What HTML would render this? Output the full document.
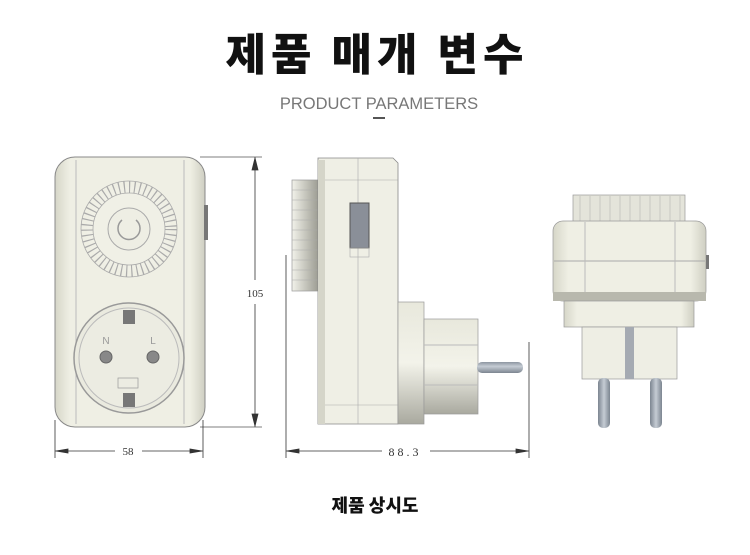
<!DOCTYPE html>
<html><head><meta charset="utf-8"><style>
html,body{margin:0;padding:0;background:#fff;}
svg{display:block;}
</style></head><body>
<svg width="750" height="555" viewBox="0 0 750 555" xmlns="http://www.w3.org/2000/svg">
<defs>
<linearGradient id="bodyG" x1="0" x2="1"><stop offset="0" stop-color="#d6d6c8"/><stop offset="0.1" stop-color="#efefe4"/><stop offset="0.9" stop-color="#efefe4"/><stop offset="1" stop-color="#cfcfc2"/></linearGradient>
<linearGradient id="vG" x1="0" y1="0" x2="0" y2="1"><stop offset="0" stop-color="#e8e8dc"/><stop offset="0.5" stop-color="#f3f3ea"/><stop offset="1" stop-color="#a9a99f"/></linearGradient>
<linearGradient id="pinG" x1="0" y1="0" x2="0" y2="1"><stop offset="0" stop-color="#8c95a0"/><stop offset="0.4" stop-color="#c5ccd4"/><stop offset="1" stop-color="#7c8590"/></linearGradient>
<linearGradient id="pinV" x1="0" x2="1"><stop offset="0" stop-color="#7c8590"/><stop offset="0.5" stop-color="#c5ccd4"/><stop offset="1" stop-color="#7c8590"/></linearGradient>
<linearGradient id="knobG" x1="0" x2="1"><stop offset="0" stop-color="#f2f2ea"/><stop offset="1" stop-color="#9a9a90"/></linearGradient>
</defs>
<text x="377" y="70" text-anchor="middle" font-family="'Noto Sans CJK KR',sans-serif" font-weight="900" font-size="44" fill="#111" letter-spacing="5">제품 매개 변수</text>
<text x="379" y="109" text-anchor="middle" font-family="'Liberation Sans',sans-serif" font-size="16.5" fill="#777">PRODUCT PARAMETERS</text>
<rect x="373" y="117" width="12" height="2" fill="#555"/>

<!-- front view -->
<rect x="55" y="157" width="150" height="270" rx="20" fill="url(#bodyG)" stroke="#888"/>
<line x1="76" y1="160" x2="76" y2="424" stroke="#bbb"/>
<line x1="184" y1="160" x2="184" y2="424" stroke="#bbb"/>
<rect x="204" y="205" width="4" height="35" fill="#777"/>
<circle cx="129" cy="229" r="42" fill="#f0f0e6" stroke="#aaa" stroke-width="12" stroke-dasharray="1.2 4"/>
<circle cx="129" cy="229" r="48" fill="none" stroke="#aaa" stroke-width="0.8"/>
<circle cx="129" cy="229" r="36" fill="none" stroke="#aaa" stroke-width="0.8"/>
<circle cx="129" cy="229" r="21" fill="#eeeee4" stroke="#aaa"/>
<path d="M122 220 A11 11 0 1 0 136 220" fill="none" stroke="#999" stroke-width="1.5"/>
<circle cx="129" cy="358" r="55" fill="#eaeadf" stroke="#999" stroke-width="1.5"/>
<circle cx="129" cy="358" r="50" fill="#ececE2" stroke="#bbb"/>
<rect x="123" y="310" width="12" height="14" fill="#777"/>
<rect x="123" y="393" width="12" height="14" fill="#777"/>
<circle cx="106" cy="357" r="6" fill="#888" stroke="#666"/>
<circle cx="153" cy="357" r="6" fill="#888" stroke="#666"/>
<text x="106" y="344" text-anchor="middle" font-family="'Liberation Sans',sans-serif" font-size="10" fill="#999">N</text>
<text x="153" y="344" text-anchor="middle" font-family="'Liberation Sans',sans-serif" font-size="10" fill="#999">L</text>
<rect x="118" y="378" width="20" height="10" fill="none" stroke="#999" stroke-width="0.7"/>
<g stroke="#333" stroke-width="0.8" fill="#333">
<line x1="200" y1="157" x2="262" y2="157" stroke="#555"/>
<line x1="200" y1="427" x2="262" y2="427" stroke="#555"/>
<line x1="255" y1="157" x2="255" y2="280"/><line x1="255" y1="304" x2="255" y2="427"/>
<path d="M255 158 L252 170 L258 170Z"/><path d="M255 426 L252 414 L258 414Z"/>
<line x1="55" y1="420" x2="55" y2="458"/><line x1="203" y1="420" x2="203" y2="458"/>
<line x1="55" y1="451" x2="115" y2="451"/><line x1="142" y1="451" x2="203" y2="451"/>
<path d="M56 451 L68 449 L68 453Z"/><path d="M202 451 L190 449 L190 453Z"/>
<line x1="286" y1="255" x2="286" y2="458"/><line x1="529" y1="342" x2="529" y2="458"/>
<line x1="286" y1="451" x2="382" y2="451"/><line x1="430" y1="451" x2="529" y2="451"/>
<path d="M287 451 L299 449 L299 453Z"/><path d="M528 451 L516 449 L516 453Z"/>
</g>
<text x="255" y="297" text-anchor="middle" font-family="'Liberation Serif',serif" font-size="11" fill="#333">105</text>
<text x="128" y="455" text-anchor="middle" font-family="'Liberation Serif',serif" font-size="11" fill="#333">58</text>
<text x="405" y="456" text-anchor="middle" font-family="'Liberation Serif',serif" font-size="12" fill="#333" letter-spacing="3">88.3</text>

<!-- side view -->
<rect x="292" y="180" width="27" height="111" fill="url(#knobG)" stroke="#999" stroke-width="0.7"/>
<g stroke="#aaa" stroke-width="0.5"><line x1="292" y1="190" x2="319" y2="190"/><line x1="292" y1="200" x2="319" y2="200"/><line x1="292" y1="210" x2="319" y2="210"/><line x1="292" y1="220" x2="319" y2="220"/><line x1="292" y1="230" x2="319" y2="230"/><line x1="292" y1="240" x2="319" y2="240"/><line x1="292" y1="250" x2="319" y2="250"/><line x1="292" y1="260" x2="319" y2="260"/><line x1="292" y1="270" x2="319" y2="270"/><line x1="292" y1="280" x2="319" y2="280"/></g>
<path d="M318 158 L393 158 L398 163 L398 424 L318 424Z" fill="#efefe5" stroke="#888" stroke-width="0.8"/>
<rect x="318" y="160" width="7" height="264" fill="#d5d5c9"/>
<line x1="325" y1="180" x2="398" y2="180" stroke="#aaa" stroke-width="0.6"/>
<line x1="358" y1="158" x2="358" y2="424" stroke="#aaa" stroke-width="0.6"/>
<line x1="325" y1="405" x2="398" y2="405" stroke="#aaa" stroke-width="0.6"/>
<rect x="350" y="203" width="19" height="45" fill="#8a8f98" stroke="#555"/>
<rect x="350" y="248" width="19" height="9" fill="none" stroke="#aaa" stroke-width="0.6"/>
<rect x="398" y="302" width="26" height="122" fill="url(#vG)" stroke="#999" stroke-width="0.7"/>
<rect x="424" y="319" width="54" height="95" fill="url(#vG)" stroke="#999" stroke-width="0.7"/>
<line x1="424" y1="345" x2="478" y2="345" stroke="#bbb"/><line x1="424" y1="385" x2="478" y2="385" stroke="#bbb"/>
<rect x="477" y="362" width="46" height="11" rx="5" fill="url(#pinG)"/>

<!-- end view -->
<rect x="573" y="195" width="112" height="28" fill="#e4e4da" stroke="#999" stroke-width="0.7"/>
<g stroke="#aaa" stroke-width="0.5"><line x1="580" y1="196" x2="580" y2="222"/><line x1="590" y1="196" x2="590" y2="222"/><line x1="600" y1="196" x2="600" y2="222"/><line x1="610" y1="196" x2="610" y2="222"/><line x1="620" y1="196" x2="620" y2="222"/><line x1="630" y1="196" x2="630" y2="222"/><line x1="640" y1="196" x2="640" y2="222"/><line x1="650" y1="196" x2="650" y2="222"/><line x1="660" y1="196" x2="660" y2="222"/><line x1="670" y1="196" x2="670" y2="222"/><line x1="680" y1="196" x2="680" y2="222"/></g>
<rect x="553" y="221" width="153" height="80" rx="10" fill="url(#bodyG)" stroke="#999" stroke-width="0.7"/>
<line x1="554" y1="261" x2="705" y2="261" stroke="#aaa"/>
<line x1="585" y1="222" x2="585" y2="300" stroke="#bbb"/><line x1="675" y1="222" x2="675" y2="300" stroke="#bbb"/>
<rect x="553" y="292" width="153" height="9" fill="#b8b8ad"/>
<rect x="706" y="255" width="3" height="14" fill="#777"/>
<rect x="564" y="301" width="130" height="26" fill="url(#bodyG)" stroke="#999" stroke-width="0.7"/>
<rect x="582" y="327" width="95" height="52" fill="#eeeee4" stroke="#999" stroke-width="0.7"/>
<rect x="625" y="327" width="9" height="52" fill="#a5aab2"/>
<rect x="598" y="378" width="12" height="50" rx="5" fill="url(#pinV)"/>
<rect x="650" y="378" width="12" height="50" rx="5" fill="url(#pinV)"/>

<text x="375" y="512" text-anchor="middle" font-family="'Noto Sans CJK KR',sans-serif" font-weight="900" font-size="18" fill="#111">제품 상시도</text>
</svg>
</body></html>
